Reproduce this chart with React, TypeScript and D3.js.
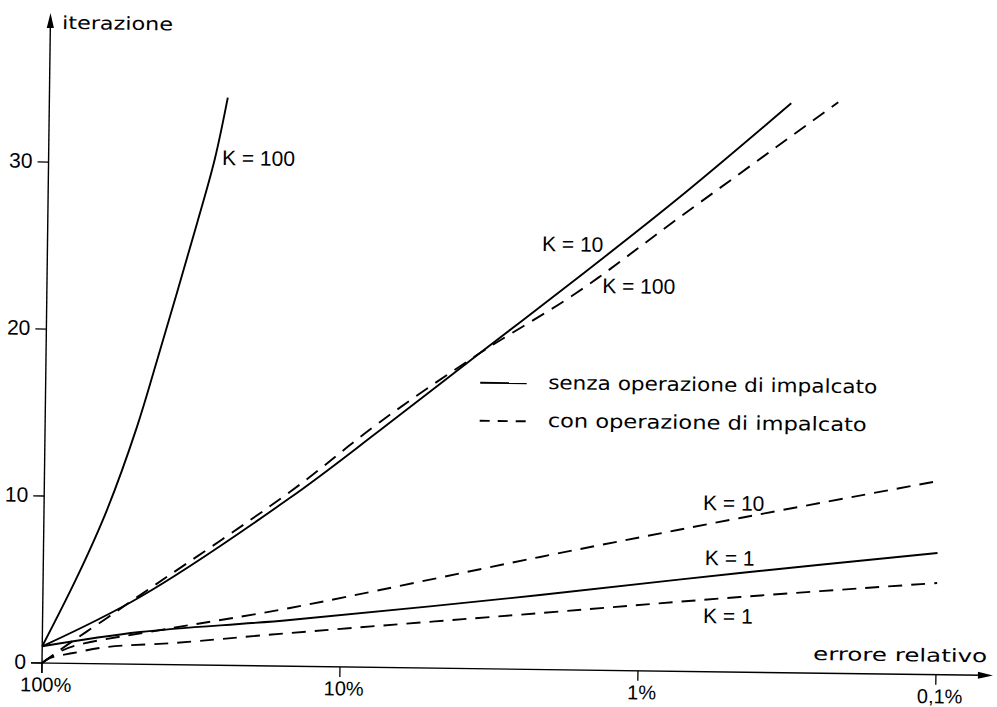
import React from "react";
import * as d3 from "d3";

// ---- data (errore relativo in %, iterazioni) ----
const errorTicks = [100, 10, 1, 0.1];
const errorTickLabels = ["100%", "10%", "1%", "0,1%"];
const iterTicks = [0, 10, 20, 30];

const senzaK100Err = [100, 76.9, 61.5, 49.2, 42.4, 31.5, 27.7, 25.2];
const senzaK100Iter = [1, 5.18, 9.21, 14.2, 18.2, 26.5, 30.3, 34.0];

const senzaK10Err = [100, 47.2, 15.0, 7.52, 3.5, 1.652, 0.759, 0.324];
const senzaK10Iter = [1, 4.03, 10.07, 14.2, 18.9, 23.5, 28.4, 34.1];

const senzaK1Err = [100, 47.0, 14.8, 2.148, 0.459, 0.1];
const senzaK1Iter = [1, 1.93, 2.77, 4.46, 5.94, 7.29];

const conK100Err = [100, 78.9, 60.8, 49.8, 15.0, 7.52, 3.5, 1.664, 0.757, 0.2254];
const conK100Iter = [0, 1.35, 2.75, 3.85, 10.43, 14.7, 18.9, 22.6, 27.2, 34.2];

const conK10Err = [100, 87.1, 76.4, 36.5, 14.8, 2.153, 0.461, 0.1];
const conK10Iter = [0, 0.7, 1.1, 2.2, 3.49, 6.74, 9.23, 11.6];

const conK1Err = [100, 94.0, 78.7, 60.5, 36.4, 14.8, 2.14, 0.458, 0.1];
const conK1Iter = [0, 0.31, 0.62, 1.01, 1.3, 1.99, 3.38, 4.5, 5.49];

const seriesNames = ["senzaK100", "senzaK10", "senzaK1", "conK100", "conK10", "conK1"];
const seriesErr = [senzaK100Err, senzaK10Err, senzaK1Err, conK100Err, conK10Err, conK1Err];
const seriesIter = [senzaK100Iter, senzaK10Iter, senzaK1Iter, conK100Iter, conK10Iter, conK1Iter];
const seriesDashed = [false, false, false, true, true, true];

// curve annotations: text, anchor in data units (error %, iterations)
const annotTexts = ["K = 100", "K = 10", "K = 100", "K = 10", "K = 1", "K = 1"];
const annotErr = [26.2, 2.19, 1.37, 0.615, 0.603, 0.608];
const annotIter = [29.96, 25.06, 22.6, 9.68, 6.39, 2.91];

const legendLabels = ["senza operazione di impalcato", "con operazione di impalcato"];
const legendDashed = [false, true];

const xTitle = "errore relativo";
const yTitle = "iterazione";

export default function App() {
  const W = 997;
  const H = 707;
  const x = d3.scaleLog().domain([100, 0.1]).range([0, 894]);
  const y = d3.scaleLinear().domain([0, 30]).range([0, -501]);

  const line = d3
    .line<[number, number]>()
    .x((d) => x(d[0]))
    .y((d) => y(d[1]))
    .curve(d3.curveCatmullRom.alpha(0.5));

  const numFont = "'Liberation Sans', Arial, sans-serif";
  const techFont = "'DejaVu Sans Condensed', 'DejaVu Sans', sans-serif";
  const yTop = -650;
  const xEnd = 951;

  return (
    <svg
      width={W}
      height={H}
      viewBox={`0 0 ${W} ${H}`}
      style={{ position: "absolute", left: 0, top: 0, background: "#fff" }}
    >
      <rect x={0} y={0} width={W} height={H} fill="#fff" />
      <g transform="translate(42,663) rotate(0.75)">
        {/* axes */}
        <line x1={0} y1={10} x2={0} y2={yTop + 10} stroke="#000" strokeWidth={1.4} />
        <path d={`M0,${yTop} L-3.6,${yTop + 15} L3.6,${yTop + 15} Z`} fill="#000" />
        <line x1={-11} y1={0} x2={xEnd - 10} y2={0} stroke="#000" strokeWidth={1.4} />
        <path d={`M${xEnd},0 L${xEnd - 15},-3.4 L${xEnd - 15},3.4 Z`} fill="#000" />

        {/* x ticks */}
        {errorTicks.map((t, i) => (
          <g key={"xt" + i}>
            <line x1={x(t)} y1={0} x2={x(t)} y2={10} stroke="#000" strokeWidth={1.3} />
            <text
              x={x(t) + 4}
              y={28.5}
              textAnchor="middle"
              fontFamily={numFont}
              fontSize={20}
              fill="#000"
            >
              {errorTickLabels[i]}
            </text>
          </g>
        ))}

        {/* y ticks */}
        {iterTicks.map((t, i) => (
          <g key={"yt" + i}>
            <line x1={-11} y1={y(t)} x2={0} y2={y(t)} stroke="#000" strokeWidth={1.3} />
            <text
              x={-16}
              y={y(t) + 6}
              textAnchor="end"
              fontFamily={numFont}
              fontSize={21}
              fill="#000"
            >
              {t}
            </text>
          </g>
        ))}

        {/* axis titles */}
        <text
          x={11.7}
          y={-634.3}
          fontFamily={techFont}
          fontSize={18}
          textLength={111}
          lengthAdjust="spacingAndGlyphs"
          fill="#000"
        >
          {yTitle}
        </text>
        <text
          x={771}
          y={-13.1}
          fontFamily={techFont}
          fontSize={18}
          textLength={174}
          lengthAdjust="spacingAndGlyphs"
          fill="#000"
        >
          {xTitle}
        </text>

        {/* curves */}
        {seriesNames.map((n, i) => {
          const pts: [number, number][] = seriesErr[i].map((e, j) => [e, seriesIter[i][j]]);
          return (
            <path
              key={n}
              d={line(pts) || ""}
              fill="none"
              stroke="#000"
              strokeWidth={1.9}
              strokeDasharray={seriesDashed[i] ? "14 9" : undefined}
            />
          );
        })}

        {/* annotations */}
        {annotTexts.map((t, i) => (
          <text
            key={"an" + i}
            x={x(annotErr[i])}
            y={y(annotIter[i])}
            fontFamily={numFont}
            fontSize={21}
            fill="#000"
          >
            {t}
          </text>
        ))}

        {/* legend */}
        {legendLabels.map((l, i) => {
          const ly = -286 + i * 38;
          return (
            <g key={"lg" + i}>
              <line
                x1={434.5}
                y1={ly}
                x2={481}
                y2={ly}
                stroke="#000"
                strokeWidth={1.9}
                strokeDasharray={legendDashed[i] ? "10 8" : undefined}
              />
              <text
                x={502.5}
                y={ly + 5.5}
                fontFamily={techFont}
                fontSize={19}
                textLength={i === 0 ? 329 : 319}
                lengthAdjust="spacingAndGlyphs"
                fill="#000"
              >
                {l}
              </text>
            </g>
          );
        })}
      </g>
    </svg>
  );
}
